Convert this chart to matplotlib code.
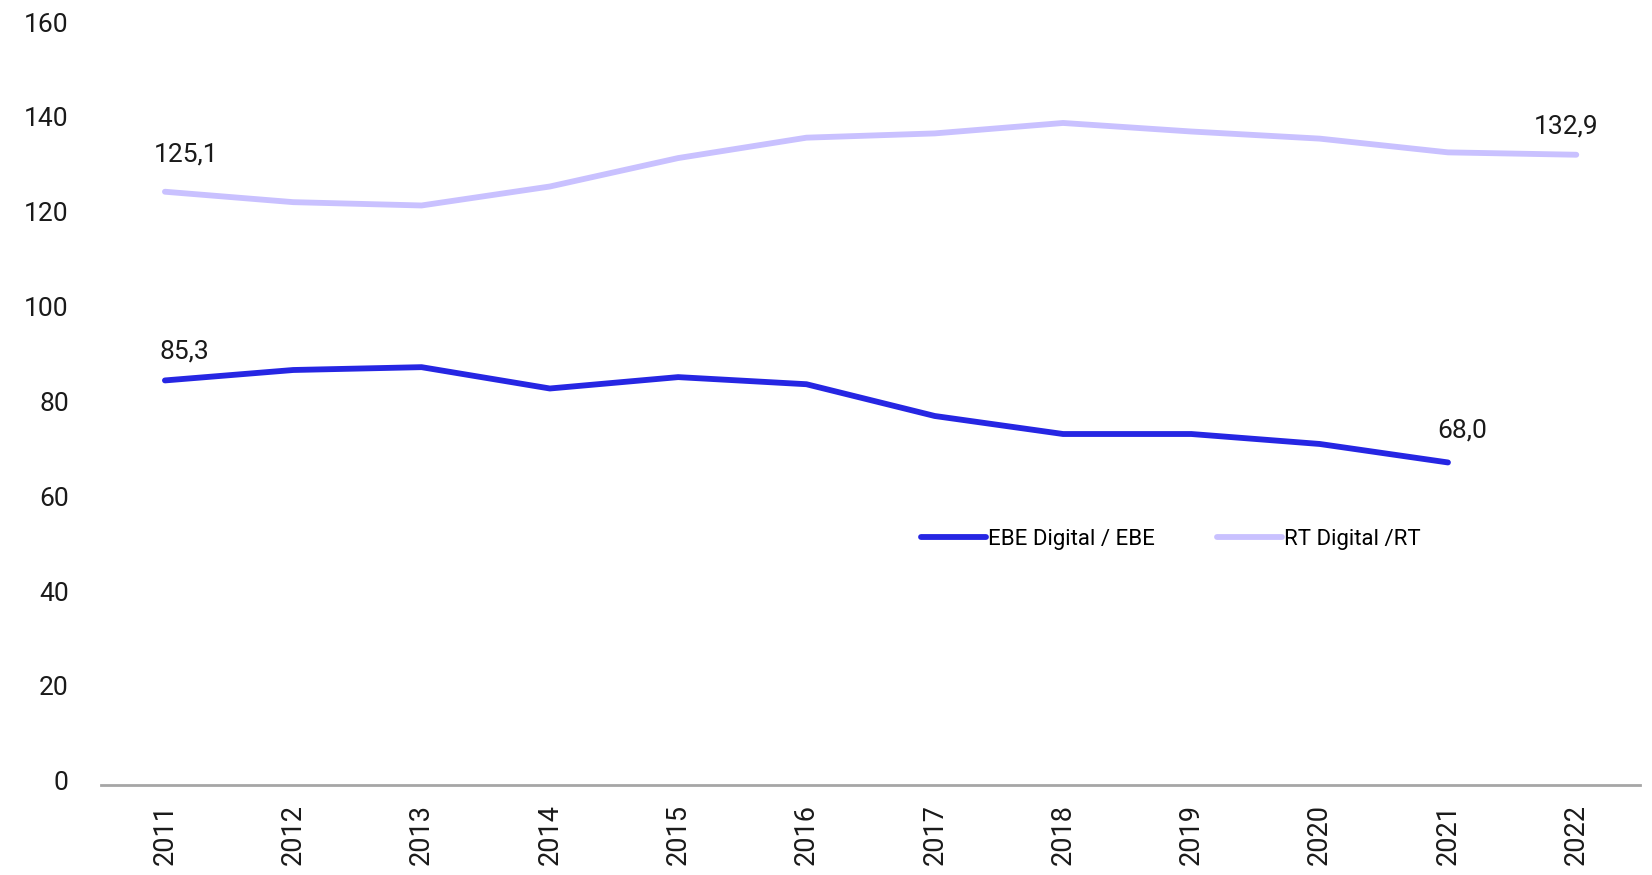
import matplotlib
matplotlib.use("Agg")
import matplotlib.pyplot as plt
from matplotlib.transforms import ScaledTranslation

plt.rcParams["font.family"] = ["Roboto", "DejaVu Sans"]

years = ["2011", "2012", "2013", "2014", "2015", "2016",
         "2017", "2018", "2019", "2020", "2021", "2022"]
ebe_digital = [85.3, 87.5, 88.1, 83.6, 86.0, 84.5, 77.8, 74.0, 74.0, 71.9, 68.0]
rt_digital = [125.1, 122.9, 122.2, 126.2, 132.2, 136.5, 137.4, 139.6, 137.8, 136.3, 133.4, 132.9]
y_ticks = [0, 20, 40, 60, 80, 100, 120, 140, 160]

# label text, series, index, offset (points)
labels = [
    ("85,3", ebe_digital, 0, (14, 21)),
    ("68,0", ebe_digital, 10, (10, 23)),
    ("125,1", rt_digital, 0, (15, 27)),
    ("132,9", rt_digital, 11, (-7, 20)),
]

BLUE = "#2626E3"
LAVENDER = "#C9C1FF"

fig = plt.figure(figsize=(16.52, 8.75), dpi=100)
ax = fig.add_axes([0.061, 0.103, 0.932, 0.867])

x_ebe = list(range(len(ebe_digital)))
x_rt = list(range(len(rt_digital)))
ax.plot(x_ebe, ebe_digital, color=BLUE, lw=4.2, solid_capstyle="round",
        label="EBE Digital / EBE")
ax.plot(x_rt, rt_digital, color=LAVENDER, lw=4.2, solid_capstyle="round",
        label="RT Digital /RT")

for txt, series, i, off in labels:
    ax.annotate(txt, (i, series[i]), xytext=off, textcoords="offset points",
                ha="center", va="center", fontsize=19, color="#1a1a1a")

ax.set_xlim(-0.5, len(years) - 0.5)
ax.set_ylim(0, 160)
ax.set_xticks(range(len(years)))
ax.set_xticklabels(years, rotation=90, fontsize=19.5, color="#1a1a1a")
ax.set_yticks(y_ticks)
ax.set_yticklabels([str(v) for v in y_ticks], fontsize=19, color="#1a1a1a")
ax.tick_params(axis="both", length=0)
ax.tick_params(axis="y", pad=23)
ax.tick_params(axis="x", pad=14)

# y labels sit a little above their gridline positions in the original
shift = ScaledTranslation(0, 3 / 72, fig.dpi_scale_trans)
for lab in ax.get_yticklabels():
    lab.set_transform(lab.get_transform() + shift)

for side in ("top", "right", "left"):
    ax.spines[side].set_visible(False)
ax.spines["bottom"].set_color("#A6A6A6")
ax.spines["bottom"].set_linewidth(2)

ax.legend(loc="center", bbox_to_anchor=(0.695, 0.324), ncol=2, frameon=False,
          fontsize=16, handlelength=2.9, handletextpad=0.1, columnspacing=2.8)

fig.savefig("out.png", dpi=100)
